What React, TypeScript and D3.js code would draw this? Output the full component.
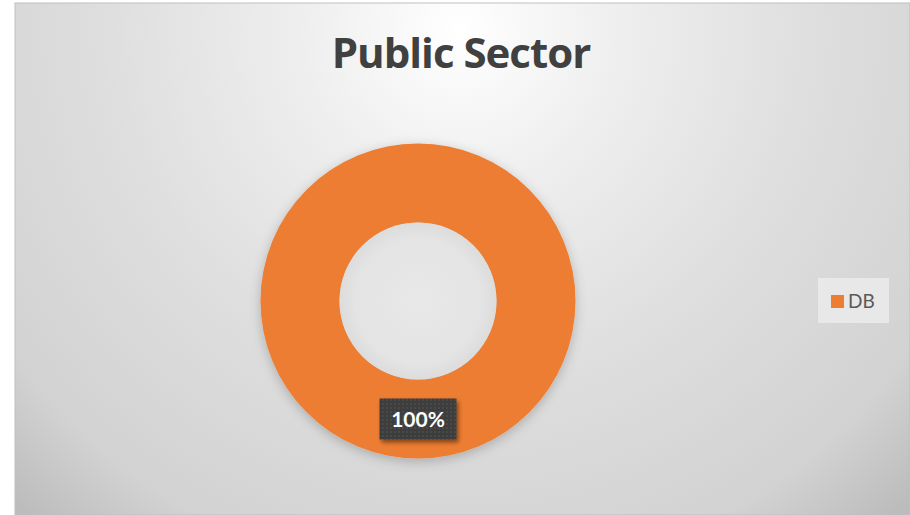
import React from "react";
import * as d3 from "d3";

const categories = ["DB"];
const values = [100];
const labels = ["100%"];
const colors = ["#ED7D31"];
const title = "Public Sector";

const W = 910;
const H = 515;

export default function App() {
  const cx = 418;
  const cy = 301;
  const outerR = 157.5;
  const innerR = 78.5;

  const pie = d3.pie<number>().sort(null).value((d) => d);
  const arcs = pie(values);
  const arc = d3.arc<d3.PieArcDatum<number>>().innerRadius(innerR).outerRadius(outerR);
  const labelArc = d3
    .arc<d3.PieArcDatum<number>>()
    .innerRadius((innerR + outerR) / 2)
    .outerRadius((innerR + outerR) / 2);

  return (
    <svg
      width={W}
      height={H}
      style={{ position: "absolute", left: 0, top: 0, display: "block" }}
      fontFamily="Lato, 'Open Sans', sans-serif"
    >
      <defs>
        <radialGradient id="bg" gradientUnits="userSpaceOnUse" cx={460} cy={30} r={650} fx={460} fy={30}>
          <stop offset="0" stopColor="#ffffff" />
          <stop offset="0.25" stopColor="#eeeeee" />
          <stop offset="0.55" stopColor="#dedede" />
          <stop offset="0.85" stopColor="#d2d2d2" />
          <stop offset="1" stopColor="#bcbcbc" />
        </radialGradient>
        <radialGradient id="hole" cx="0.5" cy="0.5" r="0.5">
          <stop offset="0" stopColor="#e8e8e8" />
          <stop offset="0.8" stopColor="#e4e4e4" />
          <stop offset="1" stopColor="#dcdcdc" />
        </radialGradient>
        <filter id="shadow" x="-20%" y="-20%" width="140%" height="140%">
          <feDropShadow dx="0" dy="3" stdDeviation="6" floodColor="#000" floodOpacity="0.22" />
        </filter>
        <filter id="lblShadow" x="-20%" y="-30%" width="150%" height="170%">
          <feDropShadow dx="2" dy="3" stdDeviation="2" floodColor="#000" floodOpacity="0.45" />
        </filter>
        <pattern id="dots" width="4" height="4" patternUnits="userSpaceOnUse">
          <rect width="4" height="4" fill="#3d3d3d" />
          <circle cx="1" cy="1" r="0.8" fill="#5a5a5a" />
        </pattern>
      </defs>
      <rect x={0} y={0} width={W} height={H} fill="#ffffff" />
      <rect x={15} y={3} width={W - 15} height={H - 3} fill="url(#bg)" stroke="#bfbfbf" strokeWidth={1} />
      <text
        x={461}
        y={68}
        textAnchor="middle"
        fontSize={42}
        fontWeight="bold"
        fill="#404040"
        fontFamily="'Open Sans', Lato, sans-serif"
        letterSpacing={-1}
      >
        {title}
      </text>
      <g transform={`translate(${cx},${cy})`}>
        <g filter="url(#shadow)">
          {arcs.map((a, i) => (
            <path key={i} d={arc(a) || ""} fill={colors[i]} />
          ))}
        </g>
        <circle r={innerR} fill="url(#hole)" />
        {arcs.map((a, i) => {
          const [lx, ly] = labelArc.centroid(a);
          const bw = 77;
          const bh = 41;
          return (
            <g key={"l" + i} transform={`translate(${lx},${ly})`}>
              <rect x={-bw / 2} y={-bh / 2} width={bw} height={bh} fill="url(#dots)" filter="url(#lblShadow)" />
              <text
                x={0}
                y={8}
                textAnchor="middle"
                fontSize={21}
                fontWeight="bold"
                fill="#ffffff"
              >
                {labels[i]}
              </text>
            </g>
          );
        })}
      </g>
      <g>
        <rect x={818} y={278} width={71} height={45} fill="#ececec" opacity={0.8} />
        {categories.map((c, i) => (
          <g key={c} transform={`translate(831,${295 + i * 24})`}>
            <rect x={0} y={0} width={13} height={13} fill={colors[i]} />
            <text x={17} y={13} fontSize={19} fill="#595959">
              {c}
            </text>
          </g>
        ))}
      </g>
    </svg>
  );
}
